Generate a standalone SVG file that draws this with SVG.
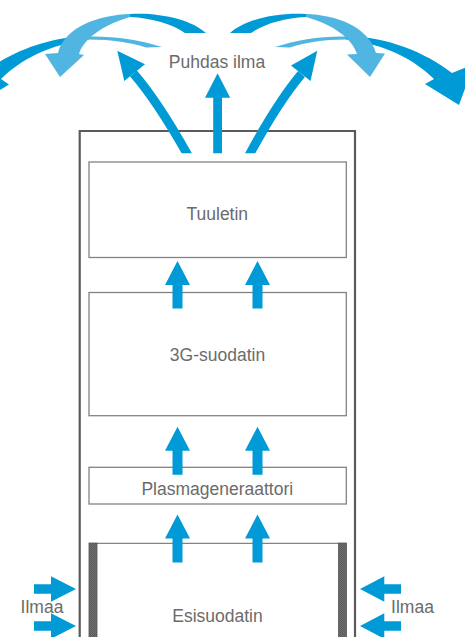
<svg xmlns="http://www.w3.org/2000/svg" width="465" height="637" viewBox="0 0 465 637">
  <style>
    .lbl { font-family: "Liberation Sans", Arial, sans-serif; font-size: 17.5px; fill: #6b6b6b; text-anchor: middle; }
    .box { fill: #ffffff; stroke: #838383; stroke-width: 1.3; }
    .housing { fill: none; stroke: #5a5a5a; stroke-width: 2.2; }
    .dark { fill: #009BD7; }
    .light { fill: #50B6E1; }
    .shaft { fill: none; stroke: #009BD7; stroke-width: 9; }
  </style>
  <defs>
    <pattern id="hatch" width="2" height="2" patternUnits="userSpaceOnUse">
      <rect width="2" height="2" fill="#707070"/>
      <rect width="1" height="1" fill="#5a5a5a"/>
      <rect x="1" y="1" width="1" height="1" fill="#5a5a5a"/>
    </pattern>
    <clipPath id="cut">
      <rect x="0" y="0" width="465" height="153.3"/>
    </clipPath>
  </defs>
  <rect width="465" height="637" fill="#ffffff"/>

  <g id="esisuodatin">
    <line x1="97" y1="543.3" x2="338.5" y2="543.3" stroke="#838383" stroke-width="1.3"/>
    <rect x="89" y="543" width="8" height="100" fill="url(#hatch)" stroke="#555555" stroke-width="0.8"/>
    <rect x="338.5" y="543" width="8" height="100" fill="url(#hatch)" stroke="#555555" stroke-width="0.8"/>
    <text class="lbl" x="217.5" y="621.7">Esisuodatin</text>
  </g>

  <g id="housing">
    <path class="housing" d="M79.7 640 L79.7 131 L355 131 L355 640"/>
  </g>

  <g id="tuuletin">
    <rect class="box" x="89" y="162" width="257.3" height="95.5"/>
    <text class="lbl" x="217.3" y="220">Tuuletin</text>
  </g>

  <g id="suodatin-3g">
    <rect class="box" x="89" y="292.5" width="257.3" height="123.2"/>
    <text class="lbl" x="217.5" y="361">3G-suodatin</text>
  </g>

  <g id="plasmageneraattori">
    <rect class="box" x="89" y="467.3" width="257.3" height="36.7"/>
    <text class="lbl" x="217.3" y="495">Plasmageneraattori</text>
  </g>

  <g id="connectors">
    <!-- vertical flow arrows inside the housing -->
    <path class="dark" d="M172.5 308.5 V285 H165 L177.5 261 L190 285 H182.5 V308.5 Z"/>
    <path class="dark" d="M252.5 308.5 V285 H245 L257.5 261 L270 285 H262.5 V308.5 Z"/>
    <path class="dark" d="M172.5 474.7 V450.7 H165 L177.5 426.7 L190 450.7 H182.5 V474.7 Z"/>
    <path class="dark" d="M252.5 474.7 V450.7 H245 L257.5 426.7 L270 450.7 H262.5 V474.7 Z"/>
    <path class="dark" d="M172.5 562.5 V538.5 H165 L177.5 514.5 L190 538.5 H182.5 V562.5 Z"/>
    <path class="dark" d="M252.5 562.5 V538.5 H245 L257.5 514.5 L270 538.5 H262.5 V562.5 Z"/>

    <!-- side intake arrows -->
    <path class="dark" d="M34 584.3 H51 V576.2 L76 589 L51 601.8 V593.7 H34 Z"/>
    <path class="dark" d="M34 621.3 H51 V613.2 L76 626 L51 638.8 V630.7 H34 Z"/>
    <path class="dark" d="M401 584.3 H384.3 V576.2 L360 589 L384.3 601.8 V593.7 H401 Z"/>
    <path class="dark" d="M401 621.3 H384.3 V613.2 L360 626 L384.3 638.8 V630.7 H401 Z"/>

    <!-- outlet arrows -->
    <path class="dark" d="M213.2 153.3 V97.7 H205 L217.6 73.3 L230.2 97.7 H222 V153.3 Z"/>
    <path class="shaft" clip-path="url(#cut)" d="M190.5 160 Q159 103 133.5 73.5"/>
    <path class="dark" d="M117.3 50.7 L124.3 81 L145 64.3 Z"/>
    <path class="shaft" clip-path="url(#cut)" d="M246.5 160 Q277 103 301.5 74"/>
    <path class="dark" d="M317.3 50.7 L291 65.5 L310.5 81 Z"/>

    <!-- arching dispersal arrows, left -->
    <path class="dark" d="M89 36.5 C50 36 10 52 -17 73 L-39 64 L-24 105 L9 84.5 L1 79 C20 60 50 44 89 39.5 Z"/>
    <path class="light" d="M162 47 C140 40 115 36 88 36.5 L88 39.5 C112 39.5 132 43 146 47.5 Z"/>
    <path class="dark" d="M130 14 C160 12 192 20 206 33 L185 33 C172 24 152 18 130 17 Z"/>
    <path class="light" d="M130 14 C100 15 65 26 58 53 L45 54 L60 77 L84 55 L79 54 C84 38 105 24 130 17 Z"/>

    <!-- arching dispersal arrows, right -->
    <path class="dark" d="M346 36.5 C385 36 425 52 452 73 L474 64 L459 105 L425 84 L434 79 C415 60 385 44 346 39.5 Z"/>
    <path class="light" d="M275 47 C297 40 320 36 346 36.5 L346 39.5 C323 39.5 304 43 290 47.5 Z"/>
    <path class="dark" d="M306 14 C276 12 244 20 230 33 L251 33 C264 24 284 18 306 17 Z"/>
    <path class="light" d="M306 14 C336 15 368 26 376 53 L385 53.5 L370 77 L347 54.5 L357 54 C352 38 332 24 306 17 Z"/>
  </g>

  <g id="labels">
    <text class="lbl" x="217" y="68.3">Puhdas ilma</text>
    <text class="lbl" x="42" y="613.3">Ilmaa</text>
    <text class="lbl" x="412.5" y="613.3">Ilmaa</text>
  </g>
</svg>
